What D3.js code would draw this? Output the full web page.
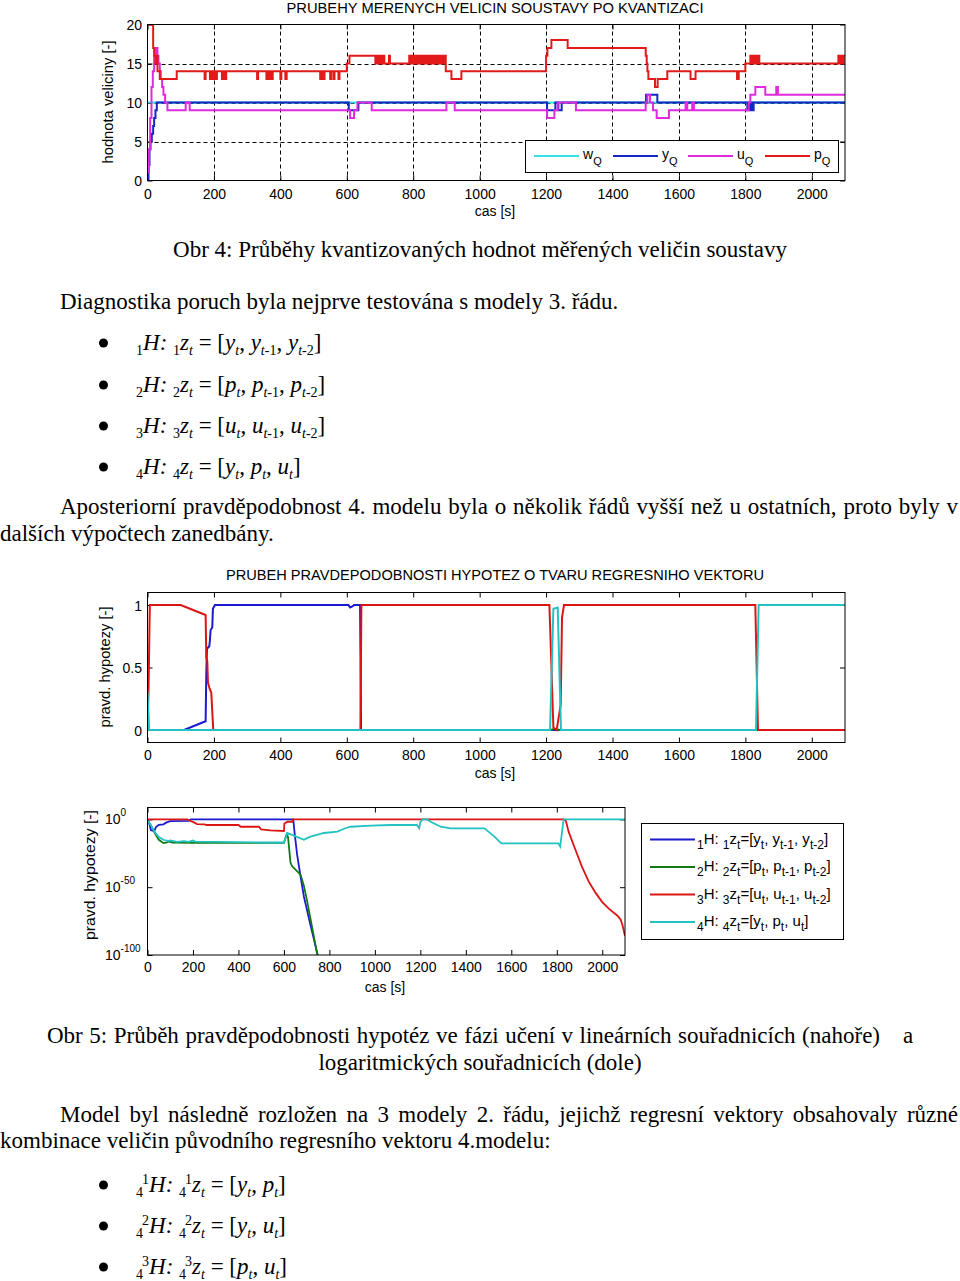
<!DOCTYPE html>
<html><head><meta charset="utf-8">
<script src="https://cdn.jsdelivr.net/npm/d3@7"></script>
<style>body{margin:0;background:#fff}svg{display:block}text{white-space:pre}</style>
</head><body>
<svg id="c" width="960" height="1281"></svg>
<script>
// ---------------- DATA ----------------
const timeTicks = [0,200,400,600,800,1000,1200,1400,1600,1800,2000];
const levelTicks = [0,5,10,15,20];
const probTicks = [0,0.5,1];
const logTickExp = [0,-50,-100];

// Chart 1: quantized measured values (step series, [time, value])
const wQ = [[0,10],[2100,10]];
const yQ = [[0,0],[3,2],[6,4],[9,5],[13,6],[17,7],[20,8],[24,9],[28,10],[605,10],[606,9],[635,10],
  [1203,9],[1228,10],[1237,9],[1247,10],[1501,11],[1535,10],[1806,9],[1810,10],[1813,9],[1818,10],[1820,9],[1825,10],[2100,10]];
const uQ = [[0,1],[4,4],[8,8],[12,12],[16,14],[20,16],[24,17],[30,16],[33,15],[37,14],[40,13],[44,12],[48,11],[53,10],[60,9],
  [115,10],[127,9],[610,8],[622,9],[632,10],[675,9],[900,10],[925,9],[1203,8],[1225,9],[1235,10],[1290,9],
  [1500,10],[1505,11],[1513,10],[1522,9],[1533,8],[1570,9],[1620,10],[1625,9],[1640,10],[1645,9],
  [1810,10],[1815,11],[1830,12],[1860,11],[1893,12],[1898,11],[2100,11]];
const pQ = [[0,20],[17,17],[20,16],[24,15],[27,16],[30,14],[37,13],[88,14],
  [172,13],[175,14],[188,13],[190,14],[193,13],[196,14],[199,13],[202,14],[206,13],[209,14],[224,13],[227,14],[233,13],[237,14],
  [330,13],[333,14],[358,13],[361,14],[365,13],[368,14],[373,13],[377,14],[400,13],[403,14],[415,13],[419,14],
  [520,13],[524,14],[530,13],[533,14],[550,13],[553,14],[560,13],[563,14],[575,13],[578,14],
  [600,15],[608,16],[686,15],[689,16],[692,15],[695,16],[698,15],[701,16],[705,15],[708,16],[713,15],[727,16],[730,15],
  [788,16],[791,15],[795,16],[798,15],[801,16],[805,15],[810,16],[813,15],[818,16],[822,15],[828,16],[832,15],[838,16],
  [842,15],[847,16],[852,15],[858,16],[862,15],[868,16],[873,15],[878,16],[882,15],[886,16],[890,15],[893,16],[898,14],[915,13],[945,14],
  [1200,16],[1204,17],[1216,18],[1265,17],[1500,16],[1503,15],[1505,14],[1508,13],[1528,12],[1536,13],[1565,14],[1635,13],[1650,14],
  [1775,13],[1780,14],[1800,15],[1815,16],[1818,15],[1822,16],[1826,15],[1830,16],[1834,15],[1838,16],[1842,15],
  [2080,16],[2084,15],[2088,16],[2092,15],[2096,16],[2100,16]];

// Chart 2: hypothesis probabilities (linear)
const H1lin = [[0,0],[110,0],[175,0.07],[177,0.45],[179,0.65],[186,0.67],[188,0.72],[190,0.8],[195,0.82],[197,0.97],[203,1],
  [605,1],[610,0.98],[618,0.99],[622,1],[640,1],[643,0],[2100,0]];
const H2lin = [[0,0],[1215,0],[1225,0.01],[1240,0],[2100,0]];
const H3lin = [[0,0],[3,0.3],[7,1],[100,1],[175,0.92],[177,0.58],[180,0.55],[182,0.38],[187,0.33],[192,0.3],[198,0],
  [641,0],[644,1],[1210,1],[1215,0.6],[1222,0.02],[1232,0],[1244,0.2],[1248,0.9],[1254,1],[1830,1],[1838,0],[2100,0]];
const H4lin = [[0,0.31],[5,0],[1212,0],[1222,0.97],[1235,0.98],[1245,0],[1832,0],[1840,1],[2100,1]];

// Chart 3: hypothesis probabilities (log10 exponents)
const H1log = [[0,0],[8,-3],[15,-8],[30,-8.5],[38,-5.4],[50,-4],[70,-3.6],[82,-2.4],[100,-1.2],[180,-1.1],[190,0],[641,0],
  [647,-10],[658,-26],[673,-42],[688,-57],[717,-78],[747,-99],[760,-110]];
const H2log = [[0,-1],[10,-3],[20,-6],[35,-11],[50,-15],[70,-17.5],[85,-17],[95,-16.3],[110,-17],[200,-17.2],[400,-17.3],[600,-17.3],
  [612,-11],[618,-13],[629,-32],[636,-34.6],[651,-37],[673,-40.7],[688,-49],[703,-61],[747,-100],[760,-110]];
const H3log = [[0,0],[175,0],[185,-1],[200,-1.8],[218,-3.4],[250,-3.6],[260,-4.1],[400,-4.1],[410,-5.4],[490,-5.4],[500,-7.3],[540,-8],
  [600,-8.5],[602,-3],[615,-1.7],[636,-1.7],[641,0],[1830,0],[1840,-1],[1852,-9],[1881,-22],[1911,-35],[1941,-46],[1970,-54],
  [2000,-61],[2030,-66],[2067,-71],[2081,-74],[2089,-78],[2100,-86]];
const H4log = [[0,-1],[10,-3],[20,-6],[35,-10],[50,-13],[70,-15],[90,-16],[100,-15.5],[130,-16.5],[160,-16],[180,-16.5],[200,-15.6],
  [210,-16.4],[300,-16.5],[400,-16.8],[500,-17],[600,-17],[610,-12],[615,-10],[630,-11],[660,-13],[688,-15],[700,-14],[717,-12.7],
  [776,-10],[835,-9],[870,-6.5],[894,-5.4],[982,-4.6],[1070,-4.1],[1185,-4.1],[1195,-6.5],[1200,-2],[1210,0],[1230,0],[1245,-1.7],
  [1290,-5.4],[1333,-6.6],[1482,-6.6],[1526,-12.7],[1556,-17.6],[1807,-17.6],[1815,-20],[1830,0],[2100,0]];

// Texts
const title1 = "PRUBEHY MERENYCH VELICIN SOUSTAVY PO KVANTIZACI";
const title2 = "PRUBEH PRAVDEPODOBNOSTI HYPOTEZ O TVARU REGRESNIHO VEKTORU";
const legend1 = [["w","Q"],["y","Q"],["u","Q"],["p","Q"]];
const legend3 = [
  [["1","s"],["H: ",""],["1","s"],["z",""],["t","s"],["=[y",""],["t","s"],[", y",""],["t-1","s"],[", y",""],["t-2","s"],["]",""]],
  [["2","s"],["H: ",""],["2","s"],["z",""],["t","s"],["=[p",""],["t","s"],[", p",""],["t-1","s"],[", p",""],["t-2","s"],["]",""]],
  [["3","s"],["H: ",""],["3","s"],["z",""],["t","s"],["=[u",""],["t","s"],[", u",""],["t-1","s"],[", u",""],["t-2","s"],["]",""]],
  [["4","s"],["H: ",""],["4","s"],["z",""],["t","s"],["=[y",""],["t","s"],[", p",""],["t","s"],[", u",""],["t","s"],["]",""]]
];
function hyp3(n, v) {
  return [[n,"s"],["H","i"],[": ","i"],[n,"s"],["z","i"],["t","is"],[" = [",""],[v,"i"],["t","is"],[", ",""],[v,"i"],["t","is"],["-1","s"],[", ",""],[v,"i"],["t","is"],["-2","s"],["]",""]];
}
const bullets1 = [hyp3("1","y"), hyp3("2","p"), hyp3("3","u"),
  [["4","s"],["H","i"],[": ","i"],["4","s"],["z","i"],["t","is"],[" = [",""],["y","i"],["t","is"],[", ",""],["p","i"],["t","is"],[", ",""],["u","i"],["t","is"],["]",""]]];
function hyp2(k, a, b) {
  return [["4","s"],[k,"Sb"],["H","i"],[": ","i"],["4","s"],[k,"Sb"],["z","i"],["t","is"],[" = [",""],[a,"i"],["t","is"],[", ",""],[b,"i"],["t","is"],["]",""]];
}
const bullets2 = [hyp2("1","y","p"), hyp2("2","y","u"), hyp2("3","p","u")];
// [text, x, baseline, mode, width]  mode: c=centered at x, l=left, j=justified to width
const paragraphs = [
  ["Obr 4: Průběhy kvantizovaných hodnot měřených veličin soustavy", 480, 257, "c", 620],
  ["Diagnostika poruch byla nejprve testována s modely 3. řádu.", 60, 309, "l", 0],
  ["Aposteriorní pravděpodobnost 4. modelu byla o několik řádů vyšší než u ostatních, proto byly v", 60, 514, "j", 898],
  ["dalších výpočtech zanedbány.", 0, 541, "l", 0],
  ["Obr 5: Průběh pravděpodobnosti hypotéz ve fázi učení v lineárních souřadnicích (nahoře)", 47, 1043, "j", 833],
  ["a", 903, 1043, "l", 0],
  ["logaritmických souřadnicích (dole)", 480, 1070, "c", 0],
  ["Model byl následně rozložen na 3 modely 2. řádu, jejichž regresní vektory obsahovaly různé", 60, 1122, "j", 898],
  ["kombinace veličin původního regresního vektoru 4.modelu:", 0, 1148, "l", 0]
];

// ---------------- DRAW ----------------
const svg = d3.select("#c");
const SANS = "'Liberation Sans', Arial, Helvetica, sans-serif";
const SERIF = "'Liberation Serif', 'Times New Roman', serif";

function rich(sel, x, y, segs, o) {
  const t = sel.append("text").attr("x", x).attr("y", y)
    .attr("font-family", o.family).attr("font-size", o.size).attr("fill", "#000");
  let cur = 0;
  segs.forEach(([txt, st]) => {
    let off = 0, size = o.size;
    if (st.includes("s")) { off = o.subOff; size = o.subSize; }
    if (st.includes("S")) { off = -o.supOff; size = o.subSize; }
    const ts = t.append("tspan").text(txt).attr("dy", off - cur).attr("font-size", size);
    if (st.includes("i")) ts.attr("font-style", "italic");
    if (st.includes("b")) ts.attr("dx", o.back || 0);
    cur = off;
  });
  return t;
}

function frame(g, x, y) {
  const [x0, x1] = x.range(), [yb, yt] = y.range();
  g.append("rect").attr("x", x0).attr("y", yt).attr("width", x1 - x0).attr("height", yb - yt)
    .attr("fill", "none").attr("stroke", "#000").attr("stroke-width", 1);
}

function clip(id, x, y) {
  const [x0, x1] = x.range(), [yb, yt] = y.range();
  svg.append("clipPath").attr("id", id).append("rect")
    .attr("x", x0).attr("y", yt).attr("width", x1 - x0).attr("height", yb - yt);
}

function styleAxis(g, size) {
  g.select(".domain").remove();
  g.selectAll("text").attr("font-family", SANS).attr("font-size", size).attr("fill", "#000");
  g.selectAll("line").attr("stroke", "#000");
}

function ticksFrame(x, y, xt, yt, yfmt, xLabY, yLabX) {
  const [x0, x1] = x.range(), [yb, ytp] = y.range();
  const gb = svg.append("g").attr("transform", `translate(0,${yb})`)
    .call(d3.axisBottom(x).tickValues(xt).tickSizeInner(-5).tickSizeOuter(0).tickFormat(d3.format("d")));
  styleAxis(gb, 14);
  gb.selectAll("text").attr("y", xLabY - yb).attr("dy", 0);
  const gt = svg.append("g").attr("transform", `translate(0,${ytp})`)
    .call(d3.axisTop(x).tickValues(xt).tickSizeInner(-5).tickSizeOuter(0).tickFormat(""));
  styleAxis(gt, 14);
  const gl = svg.append("g").attr("transform", `translate(${x0},0)`)
    .call(d3.axisLeft(y).tickValues(yt).tickSizeInner(-5).tickSizeOuter(0).tickFormat(yfmt));
  styleAxis(gl, 14);
  gl.selectAll("text").attr("x", yLabX - x0).attr("dy", "0.36em");
  const gr = svg.append("g").attr("transform", `translate(${x1},0)`)
    .call(d3.axisRight(y).tickValues(yt).tickSizeInner(-5).tickSizeOuter(0).tickFormat(""));
  styleAxis(gr, 14);
}

function sansText(x, y, txt, size, anchor, len, rot) {
  const t = svg.append("text").attr("x", x).attr("y", y).text(txt)
    .attr("font-family", SANS).attr("font-size", size).attr("fill", "#000")
    .attr("text-anchor", anchor || "start");
  if (len) t.attr("textLength", len).attr("lengthAdjust", "spacingAndGlyphs");
  if (rot) t.attr("transform", `rotate(-90,${x},${y})`);
  return t;
}

// ===== Chart 1 =====
{
  const x = d3.scaleLinear().domain([0, 2100]).range([147.5, 845]);
  const y = d3.scaleLinear().domain([0, 20]).range([180.5, 24.5]);
  clip("clip1", x, y);
  const grid = svg.append("g").attr("stroke", "#000").attr("stroke-dasharray", "4,3").attr("stroke-width", 1);
  grid.selectAll(".gx").data(timeTicks.filter(d => d > 0)).join("line")
    .attr("x1", d => Math.round(x(d)) + 0.5).attr("x2", d => Math.round(x(d)) + 0.5)
    .attr("y1", y.range()[1]).attr("y2", y.range()[0]);
  grid.selectAll(".gy").data(levelTicks.filter(d => d > 0 && d < 20)).join("line")
    .attr("y1", d => Math.round(y(d)) + 0.5).attr("y2", d => Math.round(y(d)) + 0.5)
    .attr("x1", x.range()[0]).attr("x2", x.range()[1]);
  ticksFrame(x, y, timeTicks, levelTicks, d3.format("d"), 199, 142);
  const line = d3.line().x(d => x(d[0])).y(d => y(d[1])).curve(d3.curveStepAfter);
  const series = [[wQ, "#33e4e4"], [yQ, "#1626c4"], [uQ, "#e02ae0"], [pQ, "#e21a1a"]];
  const lg = svg.append("g").attr("clip-path", "url(#clip1)");
  series.forEach(([d, c]) => lg.append("path").attr("d", line(d)).attr("fill", "none")
    .attr("stroke", c).attr("stroke-width", 2));
  frame(svg, x, y);
  svg.append("rect").attr("x", 525.5).attr("y", 140.5).attr("width", 313).attr("height", 32)
    .attr("fill", "#fff").attr("stroke", "#000");
  const lx = [534, 613, 688, 765];
  legend1.forEach((l, i) => {
    svg.append("line").attr("x1", lx[i]).attr("x2", lx[i] + 45).attr("y1", 156).attr("y2", 156)
      .attr("stroke", series[i][1]).attr("stroke-width", 2);
    rich(svg, lx[i] + 49, 159, [[l[0], ""], [l[1], "s"]], { family: SANS, size: 14, subSize: 11, subOff: 6 });
  });
  sansText(495, 13, title1, 14, "middle", 417);
  sansText(495, 216, "cas [s]", 14, "middle");
  sansText(113, 102, "hodnota veliciny [-]", 14, "middle", 123, true);
}

// ===== Chart 2 =====
{
  const x = d3.scaleLinear().domain([0, 2100]).range([147.5, 845]);
  const y = d3.scaleLinear().domain([-0.1, 1.1]).range([742.5, 592.5]);
  clip("clip2", x, y);
  ticksFrame(x, y, timeTicks, probTicks, d => d === 0.5 ? "0.5" : d3.format("d")(d), 760, 142);
  const line = d3.line().x(d => x(d[0])).y(d => y(d[1]));
  const series = [[H1lin, "#1a1ad0"], [H2lin, "#127a12"], [H3lin, "#dc1414"], [H4lin, "#22c2c2"]];
  const lg = svg.append("g").attr("clip-path", "url(#clip2)");
  series.forEach(([d, c]) => lg.append("path").attr("d", line(d)).attr("fill", "none")
    .attr("stroke", c).attr("stroke-width", 2));
  frame(svg, x, y);
  sansText(495, 580, title2, 14, "middle", 538);
  sansText(495, 778, "cas [s]", 14, "middle");
  sansText(110, 667, "pravd. hypotezy [-]", 14, "middle", 121, true);
}

// ===== Chart 3 =====
{
  const x = d3.scaleLinear().domain([0, 2100]).range([147.5, 625]);
  const y = d3.scaleLog().domain([1e-100, Math.pow(10, 8.8)]).range([955, 807.5]);
  clip("clip3", x, y);
  const logVals = logTickExp.map(e => Math.pow(10, e));
  ticksFrame(x, y, timeTicks, logVals, () => "", 972, 142);
  logTickExp.forEach(e => {
    rich(svg, 105, y(Math.pow(10, e)) + 5, [["10", ""], [String(e), "S"]],
      { family: SANS, size: 14, subSize: 10, supOff: 8 });
  });
  const line = d3.line().x(d => x(d[0])).y(d => y(Math.pow(10, d[1])));
  const series = [[H1log, "#1a1ad0"], [H2log, "#127a12"], [H3log, "#dc1414"], [H4log, "#22c2c2"]];
  const lg = svg.append("g").attr("clip-path", "url(#clip3)");
  series.forEach(([d, c]) => lg.append("path").attr("d", line(d)).attr("fill", "none")
    .attr("stroke", c).attr("stroke-width", 1.8));
  frame(svg, x, y);
  sansText(385, 992, "cas [s]", 14, "middle");
  sansText(95, 875, "pravd. hypotezy [-]", 14, "middle", 130, true);
  svg.append("rect").attr("x", 641.5).attr("y", 823.5).attr("width", 202).attr("height", 116)
    .attr("fill", "#fff").attr("stroke", "#000");
  const ly = [839.5, 867, 894.5, 922];
  legend3.forEach((segs, i) => {
    svg.append("line").attr("x1", 650).attr("x2", 695).attr("y1", ly[i]).attr("y2", ly[i])
      .attr("stroke", series[i][1]).attr("stroke-width", 2);
    rich(svg, 697, ly[i] + 4, segs, { family: SANS, size: 15, subSize: 12, subOff: 5 });
  });
}

// ===== Body text (Times-like, horizontally condensed as in the scan) =====
const BODY = 23;
const probe = svg.append("text").attr("font-family", SERIF).attr("font-size", BODY).text(paragraphs[0][0]);
const K = Math.min(1, 628 / probe.node().getComputedTextLength());
probe.remove();
const body = svg.append("g").attr("transform", `scale(${K},1)`);
paragraphs.forEach(([txt, x, y, mode, w]) => {
  const t = body.append("text").attr("x", x / K).attr("y", y).text(txt)
    .attr("font-family", SERIF).attr("font-size", BODY).attr("fill", "#000");
  if (mode === "c") t.attr("text-anchor", "middle");
  if (mode === "j") {
    const nat = t.node().getComputedTextLength();
    const spaces = (txt.match(/ /g) || []).length;
    t.attr("word-spacing", (w / K - nat) / spaces);
  }
});
const b1y = [350, 392, 433, 474];
bullets1.forEach((segs, i) => {
  svg.append("circle").attr("cx", 103.5).attr("cy", b1y[i] - 7).attr("r", 4.5).attr("fill", "#000");
  rich(body, 136 / K, b1y[i], segs, { family: SERIF, size: BODY, subSize: 14, subOff: 5, supOff: 8 });
});
const b2y = [1192, 1233, 1274];
bullets2.forEach((segs, i) => {
  svg.append("circle").attr("cx", 103.5).attr("cy", b2y[i] - 7).attr("r", 4.5).attr("fill", "#000");
  rich(body, 136 / K, b2y[i], segs, { family: SERIF, size: BODY, subSize: 14, subOff: 5, supOff: 8, back: -1 });
});
</script>
</body></html>
